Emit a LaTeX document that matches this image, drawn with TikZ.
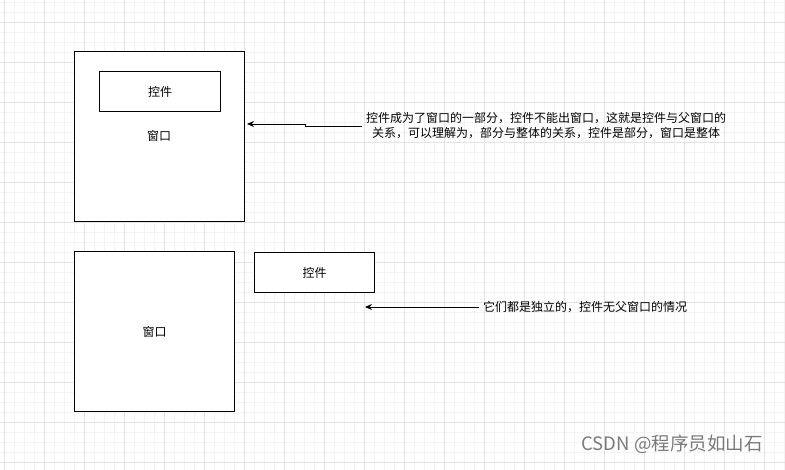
\documentclass[tikz,border=0pt]{standalone}
\usepackage{fontspec}
\usepackage{tikz}
\usetikzlibrary{arrows.meta}
\newfontfamily\cjk{Noto Sans CJK SC}
\definecolor{gridminor}{HTML}{F4F4F4}
\definecolor{gridmajor}{HTML}{E4E4E4}
\definecolor{markgray}{HTML}{7A7A7A}

\begin{document}
\begin{tikzpicture}[x=1pt,y=-1pt,font=\cjk\fontsize{12}{15}\selectfont,
		>={Stealth[length=7pt,width=6pt]},
		box/.style={draw,line width=1pt,inner sep=0pt,anchor=north west},
		note/.style={anchor=west,inner sep=4pt,align=center}]
			\useasboundingbox (0,0) rectangle (785,470);
			% background grid
			\foreach \x in {4,14,...,784} \draw[gridminor,line width=.8pt] (\x,0) -- (\x,470);
			\foreach \y in {2,12,...,468} \draw[gridminor,line width=.8pt] (0,\y) -- (785,\y);
			\foreach \x in {4,44,...,784} \draw[gridmajor,line width=.8pt] (\x,0) -- (\x,470);
			\foreach \y in {22,62,...,468} \draw[gridmajor,line width=.8pt] (0,\y) -- (785,\y);
			
			% window with child widget
			\node[box,fill=white,minimum width=170pt,minimum height=170pt] (win1) at (74,51){};
			\node[box,minimum width=121pt,minimum height=40pt] (ctl1) at (99,71){};
			\node (ctl1label) at (ctl1.center){控件};
			\node (win1label) at (159,136){窗口};
			\node[note] (note1) at (362,126){控件成为了窗口的一部分，控件不能出窗口，这就是控件与父窗口的\\关系，可以理解为，部分与整体的关系，控件是部分，窗口是整体};
			\coordinate (tip1) at (247,124);
			\draw[->,line width=.9pt] (note1.west) -- (305,126) -- (305,124) -- (tip1);
			
			% independent window and widget
			\node[box,fill=white,minimum width=160pt,minimum height=160pt] (win2) at (74,251){};
			\node (win2label) at (win2.center){窗口};
			\node[box,fill=white,minimum width=120pt,minimum height=40pt] (ctl2) at (254,252){};
			\node (ctl2label) at (ctl2.center){控件};
			\node[note] (note2) at (479,307){它们都是独立的，控件无父窗口的情况};
			\coordinate (tip2) at (365,307);
			\draw[->,line width=.9pt] (note2.west) -- (tip2);
			
			\node[markgray,font=\cjk\fontsize{18.5}{20}\selectfont] (mark) at (672,444){CSDN @程序员如山石};
		\end{tikzpicture}
\end{document}
